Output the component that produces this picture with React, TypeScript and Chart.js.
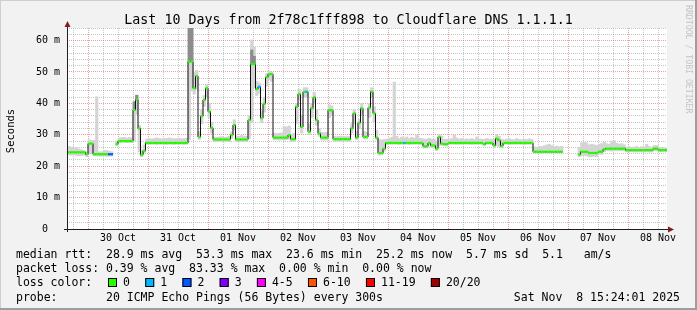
import React, { useEffect, useRef } from 'react';
import { Chart, registerables } from 'chart.js';

Chart.register(...registerables);

// ---------- data (hours are relative to 30 Oct 00:00, one value per hour bin) ----------
const titleText = 'Last 10 Days from 2f78c1fff898 to Cloudflare DNS 1.1.1.1';
const yAxisTitle = 'Seconds';
const watermark = 'RRDTOOL / TOBI OETIKER';
const dayLabels = ['30 Oct', '31 Oct', '01 Nov', '02 Nov', '03 Nov', '04 Nov', '05 Nov', '06 Nov', '07 Nov', '08 Nov'];
const X_MIN = -8.4; // 29 Oct 15:36
const X_MAX = 231.6; // 08 Nov 15:36
const FIRST_BIN_CENTER = -7.5;
const BIN_HOURS = 1;
const Y_MAX = 64;

// median RTT in ms
const median = [
  24.4, 24.4, 24.4, 24.4, 24.4, 24.4, 24.4, 23.8, 27.2, 27.2,
  23.8, 23.8, 23.8, 23.8, 23.8, 23.8, 23.8, 23.8, null, 27.0,
  28.0, 28.0, 28.0, 28.0, 28.0, 28.0, 37.9, 41.2, 32.0, 23.6,
  24.9, 27.4, 27.4, 27.4, 27.4, 27.4, 27.4, 27.4, 27.4, 27.4,
  27.4, 27.4, 27.4, 27.4, 27.4, 27.4, 27.4, 27.4, 53.3, 53.3,
  44.8, 48.7, 29.3, 35.9, 41.1, 44.8, 37.4, 32.2, 28.5, 28.5,
  28.5, 28.5, 28.5, 28.5, 28.5, 29.9, 33.1, 28.5, 28.5, 28.5,
  28.5, 28.5, 34.7, 52.5, 52.5, 44.5, 45.3, 35.3, 39.9, 48.3,
  49.3, 49.3, 29.1, 29.1, 29.1, 29.1, 29.1, 29.1, 29.9, 28.6,
  28.6, 38.9, 43.0, 32.5, 43.7, 43.7, 31.0, 38.4, 41.9, 34.7,
  30.4, 29.1, 29.1, 29.1, 37.8, 37.8, 28.6, 28.6, 28.6, 28.6,
  28.6, 28.6, 28.6, 32.0, 36.8, 29.1, 33.8, 38.4, 29.3, 29.3,
  38.6, 43.7, 36.8, 29.1, 24.2, 24.2, 25.6, 27.4, 27.4, 27.4,
  27.4, 27.4, 27.4, 27.4, 27.4, 27.4, 27.4, 27.4, 27.4, 27.4,
  27.4, 27.4, 26.3, 26.3, 27.4, 26.6, 26.6, 25.6, 29.3, 27.2,
  27.0, 27.0, 27.4, 27.4, 27.4, 27.4, 27.4, 27.4, 27.4, 27.4,
  27.4, 27.4, 27.4, 27.4, 27.4, 27.4, 27.0, 27.4, 27.4, 27.4,
  26.6, 28.8, 28.2, 26.4, 27.4, 27.4, 27.4, 27.4, 27.4, 27.4,
  27.4, 27.4, 27.4, 27.4, 27.4, 27.4, 24.6, 24.6, 24.6, 24.6,
  24.6, 24.6, 24.6, 24.6, 24.6, 24.6, 24.6, 24.6, null, null,
  null, null, null, null, 23.7, 24.6, 24.6, 24.6, 24.2, 24.2,
  24.2, 24.2, 24.6, 24.6, 25.4, 25.6, 25.6, 25.6, 25.6, 25.6,
  25.6, 25.6, 25.6, 25.1, 25.1, 25.1, 25.1, 25.1, 25.1, 25.1,
  25.1, 25.1, 25.1, 25.1, 25.6, 25.6, 25.1, 25.1, 25.1, 25.1,
];

// light smoke (spread of the 20 pings)
const smokeLo = [
  23.6, 23.5, 23.6, 23.4, 23.3, 23.4, 23.5, 23.0, 24.0, 24.1,
  23.3, 23.3, 23.2, 23.2, 23.3, 23.1, 23.2, 23.2, null, 26.6,
  27.5, 27.6, 27.6, 27.5, 27.6, 27.5, 28.2, 36.5, 24.5, 23.0,
  24.3, 27.0, 26.9, 27.0, 27.0, 26.9, 27.0, 27.0, 27.0, 26.9,
  27.0, 27.0, 26.9, 27.0, 27.0, 27.0, 26.9, 27.0, 28.4, 44.0,
  43.0, 44.5, 28.5, 33.5, 39.0, 42.0, 35.5, 30.5, 27.9, 27.9,
  27.9, 27.8, 27.9, 27.9, 27.8, 28.8, 31.5, 27.8, 27.9, 27.8,
  27.9, 27.8, 28.8, 34.0, 45.0, 42.5, 43.2, 33.8, 37.2, 45.5,
  47.5, 47.0, 28.4, 28.4, 28.3, 28.4, 28.3, 28.4, 28.6, 27.9,
  27.9, 33.5, 41.0, 30.5, 42.0, 42.0, 30.0, 35.5, 40.0, 33.0,
  29.5, 28.3, 28.3, 28.3, 35.5, 36.5, 28.0, 28.0, 27.9, 28.0,
  28.0, 27.9, 28.0, 30.5, 33.5, 28.5, 32.0, 36.5, 28.7, 28.6,
  35.5, 42.0, 34.0, 28.4, 23.5, 23.6, 24.8, 26.9, 27.0, 27.0,
  27.0, 27.0, 26.9, 27.0, 27.0, 27.0, 26.9, 27.0, 27.0, 27.0,
  27.0, 26.9, 25.8, 25.8, 26.8, 25.9, 25.9, 25.0, 26.5, 26.7,
  26.5, 26.5, 27.0, 27.0, 27.0, 26.9, 27.0, 27.0, 27.0, 27.0,
  27.0, 26.9, 27.0, 27.0, 27.0, 27.0, 26.6, 27.0, 27.0, 27.0,
  26.0, 26.5, 26.2, 25.8, 27.0, 27.0, 26.9, 27.0, 27.0, 27.0,
  27.0, 27.0, 26.9, 27.0, 27.0, 27.0, 24.2, 24.2, 24.1, 24.2,
  24.2, 24.1, 24.2, 24.2, 24.2, 24.1, 24.2, 24.2, null, null,
  null, null, null, null, 23.0, 23.4, 23.4, 23.3, 23.0, 23.0,
  23.1, 23.0, 23.8, 23.8, 24.6, 24.9, 24.9, 24.8, 24.9, 24.9,
  24.9, 24.9, 24.9, 24.5, 24.5, 24.6, 24.5, 24.5, 24.6, 24.5,
  24.5, 24.6, 24.5, 24.5, 24.9, 24.9, 24.6, 24.6, 24.7, 24.6,
];
const smokeHi = [
  26.3, 26.0, 25.8, 26.0, 25.5, 25.2, 25.0, 24.5, 28.4, 28.2,
  28.2, 42.1, 24.6, 24.6, 25.0, 25.0, 24.8, 24.6, null, 28.0,
  29.0, 29.1, 29.2, 28.9, 29.2, 29.0, 40.5, 42.6, 33.0, 25.2,
  26.8, 28.6, 28.8, 28.7, 28.8, 29.0, 28.8, 28.7, 28.9, 28.8,
  29.0, 28.8, 28.7, 28.8, 28.9, 28.7, 28.8, 28.9, 64.0, 64.0,
  50.0, 50.5, 31.0, 38.0, 42.5, 46.0, 40.0, 34.0, 29.3, 29.2,
  29.3, 29.4, 29.2, 29.3, 29.5, 31.0, 34.8, 29.6, 29.5, 29.8,
  29.6, 29.5, 36.0, 60.2, 58.0, 47.0, 46.5, 37.5, 42.0, 49.5,
  50.3, 50.0, 30.5, 30.4, 30.5, 30.6, 32.5, 32.5, 32.8, 30.2,
  30.5, 40.0, 44.5, 36.0, 45.0, 45.0, 33.5, 40.0, 43.5, 38.0,
  32.0, 30.8, 30.7, 30.8, 39.5, 39.2, 29.5, 29.4, 29.5, 29.6,
  29.5, 29.4, 29.5, 33.5, 38.0, 31.0, 35.0, 40.0, 31.0, 30.8,
  40.0, 45.0, 39.0, 31.5, 28.5, 28.3, 28.5, 28.6, 28.8, 29.2,
  46.8, 29.5, 28.8, 29.3, 29.0, 29.3, 28.8, 29.2, 28.9, 29.9,
  29.0, 28.8, 28.6, 28.6, 28.9, 28.6, 28.6, 28.0, 30.0, 29.6,
  28.6, 28.6, 28.5, 28.8, 30.0, 29.0, 28.6, 28.8, 28.5, 28.7,
  28.6, 28.8, 28.5, 29.3, 28.7, 28.6, 28.6, 28.8, 28.6, 28.6,
  28.5, 30.2, 29.5, 28.6, 28.4, 28.6, 28.8, 28.5, 28.4, 28.8,
  28.5, 28.4, 28.6, 28.5, 28.7, 28.5, 26.2, 26.0, 26.3, 26.2,
  26.5, 26.8, 27.0, 26.6, 26.2, 26.4, 26.2, 26.3, null, null,
  null, null, null, null, 26.0, 27.5, 27.6, 27.4, 26.8, 27.0,
  26.8, 26.6, 27.0, 27.2, 27.6, 27.2, 27.0, 28.0, 28.1, 27.3,
  27.0, 27.2, 26.8, 26.0, 26.2, 26.0, 26.1, 26.3, 26.0, 26.2,
  26.1, 27.0, 26.3, 26.0, 26.6, 26.6, 25.9, 26.0, 25.9, 25.8,
];

// dark smoke (dense part of the spikes)
const darkBins = [26, 27, 48, 49, 73, 74];
const darkLo = [38.0, 41.0, 53.3, 53.3, 52.5, 52.5];
const darkHi = [40.5, 42.6, 64.0, 64.0, 57.0, 55.0];

// packet loss (pings lost out of 20) where it is not 0
const lossBins = [16, 17, 76, 95, 134];
const lossCounts = [2, 2, 1, 1, 1];
const lossColors = ['#26ff00', '#00b8ff', '#0059ff', '#7e00ff', '#ff00ff', '#ff5500', '#ff0000', '#a10000'];
const lossLabels = ['0', '1', '2', '3', '4-5', '6-10', '11-19', '20/20'];

const legendRtt = 'median rtt:  28.9 ms avg  53.3 ms max  23.6 ms min  25.2 ms now  5.7 ms sd  5.1   am/s';
const legendLoss = 'packet loss: 0.39 % avg  83.33 % max  0.00 % min  0.00 % now';
const legendLossColor = 'loss color:';
const legendProbe = 'probe:       20 ICMP Echo Pings (56 Bytes) every 300s';
const legendDate = 'Sat Nov  8 15:24:01 2025';

// ---------- styling ----------
const MONO = "'DejaVu Sans Mono', monospace";
const BACK = '#f2f2f2';
const GRID = 'rgba(143,143,143,0.5)';
const MGRID = 'rgba(222,79,79,0.55)';
const ARROW = '#801f1f';
const AXIS = '#1f1f1f';

const xTicks: number[] = [];
for (let h = -6; h <= 228; h += 6) xTicks.push(h);
const yTicks: number[] = [];
for (let v = 0; v <= Y_MAX; v += 2) yTicks.push(v);

const lossClass = (n: number) =>
  n <= 0 ? 0 : n === 1 ? 1 : n === 2 ? 2 : n === 3 ? 3 : n <= 5 ? 4 : n <= 10 ? 5 : n <= 19 ? 6 : 7;
const lossAt = (i: number) => {
  const k = lossBins.indexOf(i);
  return k < 0 ? 0 : lossCounts[k];
};

const rrdPlugin = {
  id: 'rrd',
  beforeDraw(chart: any) {
    const { ctx, chartArea: a, width, height } = chart;
    ctx.save();
    ctx.fillStyle = BACK;
    ctx.fillRect(0, 0, width, height);
    ctx.fillStyle = '#cfcfcf';
    ctx.fillRect(0, 0, width, 1);
    ctx.fillRect(0, 0, 1, height);
    ctx.fillStyle = '#9e9e9e';
    ctx.fillRect(0, height - 2, width, 2);
    ctx.fillRect(width - 2, 0, 2, height);
    ctx.fillStyle = '#ffffff';
    ctx.fillRect(a.left, a.top, a.right - a.left, a.bottom - a.top);
    ctx.restore();
  },
  afterDraw(chart: any) {
    const { ctx, chartArea: a } = chart;
    ctx.save();
    // axes
    ctx.strokeStyle = AXIS;
    ctx.lineWidth = 1;
    ctx.beginPath();
    ctx.moveTo(a.left - 3, a.bottom + 0.5);
    ctx.lineTo(a.right + 3, a.bottom + 0.5);
    ctx.moveTo(a.left + 0.5, a.top - 4);
    ctx.lineTo(a.left + 0.5, a.bottom + 3);
    ctx.stroke();
    // arrows
    ctx.fillStyle = ARROW;
    ctx.beginPath();
    ctx.moveTo(a.left + 0.5, a.top - 7);
    ctx.lineTo(a.left + 3.5, a.top - 1);
    ctx.lineTo(a.left - 2.5, a.top - 1);
    ctx.closePath();
    ctx.fill();
    ctx.beginPath();
    ctx.moveTo(a.right + 7, a.bottom + 0.5);
    ctx.lineTo(a.right + 1, a.bottom - 2.5);
    ctx.lineTo(a.right + 1, a.bottom + 3.5);
    ctx.closePath();
    ctx.fill();

    // title
    ctx.fillStyle = '#000';
    ctx.font = `13.3px ${MONO}`;
    ctx.textAlign = 'center';
    ctx.textBaseline = 'alphabetic';
    ctx.fillText(titleText, 348.5, 24);

    // y axis title
    ctx.save();
    ctx.translate(11, 131);
    ctx.rotate(-Math.PI / 2);
    ctx.font = `10.5px ${MONO}`;
    ctx.textAlign = 'center';
    ctx.textBaseline = 'middle';
    ctx.fillText(yAxisTitle, 0, 0);
    ctx.restore();

    // watermark
    ctx.save();
    ctx.translate(688, 5);
    ctx.rotate(Math.PI / 2);
    ctx.font = `8.2px ${MONO}`;
    ctx.fillStyle = '#c4c4c4';
    ctx.textAlign = 'left';
    ctx.textBaseline = 'middle';
    ctx.fillText(watermark, 0, 0);
    ctx.restore();

    // legend
    ctx.font = `11.5px ${MONO}`;
    ctx.fillStyle = '#000';
    ctx.textAlign = 'left';
    ctx.textBaseline = 'alphabetic';
    ctx.fillText(legendRtt, 16, 258);
    ctx.fillText(legendLoss, 16, 272);
    ctx.fillText(legendLossColor, 16, 286);
    ctx.fillText(legendProbe, 16, 300.5);
    ctx.textAlign = 'right';
    ctx.fillText(legendDate, 680, 300.5);
    ctx.textAlign = 'left';
    let x = 108;
    lossLabels.forEach((lab, k) => {
      ctx.fillStyle = lossColors[k];
      ctx.fillRect(x, 278, 9, 9);
      ctx.strokeStyle = '#000';
      ctx.lineWidth = 1;
      ctx.strokeRect(x + 0.5, 278.5, 8, 8);
      ctx.fillStyle = '#000';
      ctx.fillText(lab, x + 15, 286);
      x = x + 15 + ctx.measureText(lab).width + 15.3;
    });
    ctx.restore();
  },
};

export default function App() {
  const ref = useRef<HTMLCanvasElement | null>(null);

  useEffect(() => {
    const canvas = ref.current;
    if (!canvas) return;
    const xs = median.map((_, i) => FIRST_BIN_CENTER + i * BIN_HOURS);

    const lightData = xs
      .map((x, i) => (smokeLo[i] == null ? null : { x, y: [smokeLo[i], smokeHi[i]] }))
      .filter((d) => d !== null);
    const darkData = darkBins.map((b, k) => ({ x: xs[b], y: [darkLo[k], darkHi[k]] }));
    const lineData = xs.map((x, i) => ({ x, y: median[i] }));

    const chart = new Chart(canvas, {
      type: 'line',
      data: {
        datasets: [
          {
            type: 'line',
            label: 'median-loss',
            data: lineData,
            showLine: false,
            pointStyle: 'line',
            pointRadius: 1.25,
            pointHoverRadius: 1.25,
            pointBorderWidth: 2.2,
            pointHoverBorderWidth: 2.2,
            pointBorderColor: (c: any) => lossColors[lossClass(lossAt(c.dataIndex))],
            pointBackgroundColor: 'transparent',
            order: 1,
          },
          {
            type: 'line',
            label: 'median',
            data: lineData,
            borderColor: '#111111',
            borderWidth: 1,
            stepped: 'middle',
            pointRadius: 0,
            spanGaps: false,
            order: 2,
          },
          {
            type: 'bar',
            label: 'smoke-dark',
            data: darkData,
            backgroundColor: '#8c8c8c',
            borderWidth: 0,
            barPercentage: 1,
            categoryPercentage: 1,
            grouped: false,
            order: 3,
          },
          {
            type: 'bar',
            label: 'smoke',
            data: lightData,
            backgroundColor: '#d4d4d4',
            borderWidth: 0,
            barPercentage: 1,
            categoryPercentage: 1,
            grouped: false,
            order: 4,
          },
        ] as any,
      },
      options: {
        responsive: false,
        animation: false,
        devicePixelRatio: 1,
        events: [],
        layout: { padding: { left: 0, right: 30, top: 28, bottom: 0 } },
        plugins: {
          legend: { display: false },
          title: { display: false },
          tooltip: { enabled: false },
        },
        scales: {
          x: {
            type: 'linear',
            min: X_MIN,
            max: X_MAX,
            offset: false,
            afterBuildTicks: (s: any) => {
              s.ticks = xTicks.map((v) => ({ value: v }));
            },
            afterFit: (s: any) => {
              s.height = 81;
            },
            grid: {
              offset: false,
              drawTicks: false,
              lineWidth: 1,
              color: (c: any) => {
                const v = c.tick ? c.tick.value : 1;
                return ((v % 24) + 24) % 24 === 0 ? MGRID : GRID;
              },
            },
            border: { display: false, dash: [1, 1] },
            ticks: {
              autoSkip: false,
              maxRotation: 0,
              minRotation: 0,
              padding: 3,
              color: '#000',
              font: { family: MONO, size: 10 },
              callback: (value: any) => {
                const v = Number(value);
                if (((v % 24) + 24) % 24 === 12) return dayLabels[Math.floor(v / 24)] ?? '';
                return '';
              },
            },
          },
          y: {
            type: 'linear',
            min: 0,
            max: Y_MAX,
            afterBuildTicks: (s: any) => {
              s.ticks = yTicks.map((v) => ({ value: v }));
            },
            afterFit: (s: any) => {
              s.width = 67;
            },
            grid: {
              drawTicks: false,
              lineWidth: 1,
              color: (c: any) => {
                const v = c.tick ? c.tick.value : 1;
                if (v === 0) return 'rgba(0,0,0,0)';
                return v % 10 === 0 ? MGRID : GRID;
              },
            },
            border: { display: false, dash: [1, 1] },
            ticks: {
              autoSkip: false,
              padding: 7,
              color: '#000',
              font: { family: MONO, size: 10 },
              callback: (value: any) => {
                const v = Number(value);
                if (v === 0) return '0  ';
                return v % 10 === 0 ? `${v} m` : '';
              },
            },
          },
        },
      } as any,
      plugins: [rrdPlugin],
    });
    return () => chart.destroy();
  }, []);

  return (
    <div style={{ position: 'absolute', left: 0, top: 0, width: 697, height: 310 }}>
      <canvas ref={ref} width={697} height={310} style={{ display: 'block', width: 697, height: 310 }} />
    </div>
  );
}
